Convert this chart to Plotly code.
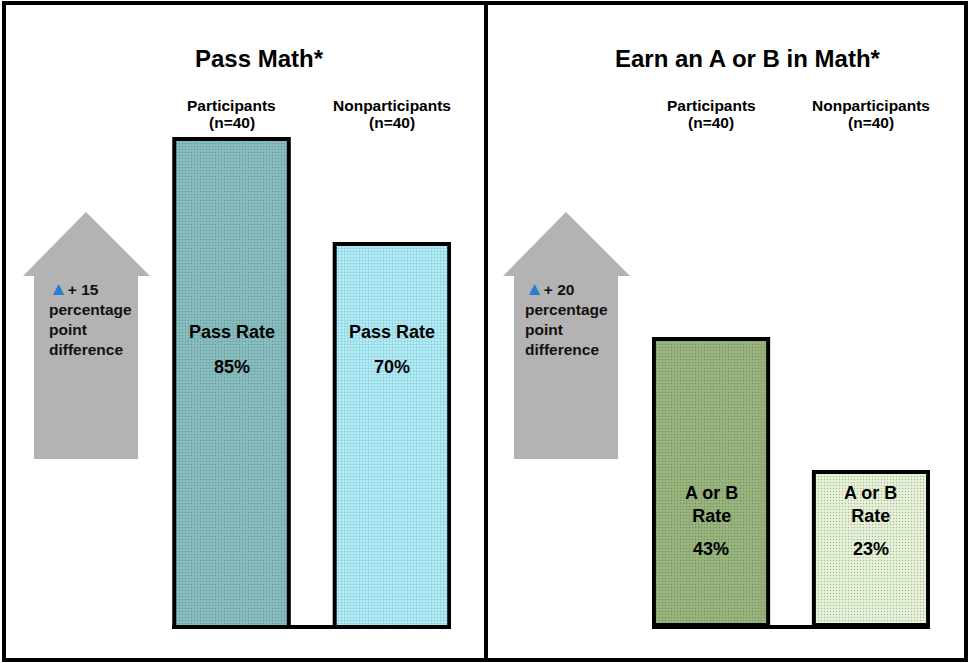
import plotly.graph_objects as go

W, H = 968, 663
_FONT = "Liberation Sans, Arial, sans-serif"


def px(x):
    return x / W


def py(y):
    return 1 - y / H


# data
categories = ["Participants", "Nonparticipants"]
sample_sizes = [40, 40]
pass_rates = [85, 70]
ab_rates = [43, 23]
panel_titles = ["Pass Math*", "Earn an A or B in Math*"]
rate_labels = ["Pass Rate", "A or B<br>Rate"]

pass_colors = ["#86BEC0", "#AEEEFB"]
ab_colors = ["#98B57C", "#E6F3D7"]
pattern_fg = ["#72A9AB", "#D2F8FF", "#88A76C", "#F4FBEC"]

BAR_W = 0.714

fig = go.Figure()

fig.add_trace(go.Bar(
    x=categories, y=pass_rates, width=BAR_W,
    marker=dict(color=pass_colors, line=dict(color="#000", width=4),
                pattern=dict(shape=[".", "+"], fgcolor=pattern_fg[:2],
                             size=3, solidity=0.2, fgopacity=0.35)),
    xaxis="x", yaxis="y", showlegend=False, hoverinfo="skip",
))
fig.add_trace(go.Bar(
    x=categories, y=ab_rates, width=BAR_W,
    marker=dict(color=ab_colors, line=dict(color="#000", width=4),
                pattern=dict(shape=[".", "."], fgcolor=pattern_fg[2:],
                             size=3, solidity=0.2, fgopacity=0.35)),
    xaxis="x2", yaxis="y2", showlegend=False, hoverinfo="skip",
))

ann = []
shapes = []

# panel frames
for x0, x1 in [(4, 486), (486, 966)]:
    shapes.append(dict(type="rect", xref="paper", yref="paper",
                       x0=px(x0), x1=px(x1), y0=py(660), y1=py(3),
                       line=dict(color="#000", width=4)))

# grey "difference" arrows
for left in [23, 503]:
    pts = [(left + 11, 459), (left + 11, 276), (left, 276), (left + 63, 212),
           (left + 127, 276), (left + 115, 276), (left + 115, 459)]
    path = "M " + " L ".join(f"{px(a):.5f},{py(b):.5f}" for a, b in pts) + " Z"
    shapes.append(dict(type="path", xref="paper", yref="paper", path=path,
                       fillcolor="#B3B3B3", line=dict(width=0), layer="below"))


def label(text, xref, x, y, size):
    return dict(text=f"<b>{text}</b>", xref=xref, yref="paper", x=x, y=py(y),
                xanchor="center", yanchor="middle", showarrow=False,
                font=dict(size=size, color="#000"))


panels = [
    ("x", 259, 47, pass_rates, 332, 367),
    ("x2", 748, 523, ab_rates, 504, 549),
]
for i, (xr, title_x, arrow_x, vals, lab_y, val_y) in enumerate(panels):
    ann.append(label(panel_titles[i], "paper", px(title_x), 58, 24))
    diff = vals[0] - vals[1]
    ann.append(dict(
        text=(f"<b><span style='color:#2A7BD3;font-size:19px'>▲</span>+ {diff}"
              "<br>percentage<br>point<br>difference</b>"),
        xref="paper", yref="paper", x=px(arrow_x), y=py(318),
        xanchor="left", yanchor="middle", align="left", showarrow=False,
        font=dict(size=15.5, color="#111"),
    ))
    for cat, n, v in zip(categories, sample_sizes, vals):
        ann.append(label(cat, xr, cat, 106, 15.5))
        ann.append(label(f"(n={n})", xr, cat, 122, 15.5))
        ann.append(label(rate_labels[i], xr, cat, lab_y, 18))
        ann.append(label(f"{v}%", xr, cat, val_y, 18))

ydom = [py(625), py(130)]
xaxis_style = dict(showline=True, linecolor="#000", linewidth=4, showticklabels=False,
                   ticks="", showgrid=False, zeroline=False, fixedrange=True)
yaxis_style = dict(visible=False, showgrid=False, zeroline=False, fixedrange=True)

fig.update_layout(
    width=W, height=H,
    margin=dict(l=0, r=0, t=0, b=0),
    paper_bgcolor="white", plot_bgcolor="rgba(0,0,0,0)",
    font=dict(family=_FONT, color="#000"),
    xaxis=dict(domain=[px(172), px(451)], range=[-0.371, 1.368], anchor="y",
               **xaxis_style),
    yaxis=dict(domain=ydom, range=[15.57, 86.29], anchor="x", **yaxis_style),
    xaxis2=dict(domain=[px(652), px(930)], range=[-0.369, 1.369], anchor="y2",
                **xaxis_style),
    yaxis2=dict(domain=ydom, range=[0, 74.4], anchor="x2", **yaxis_style),
    shapes=shapes,
    annotations=ann,
)

fig.write_html("out.html", config={"displayModeBar": False},
               post_script="document.body.style.margin='0';")
